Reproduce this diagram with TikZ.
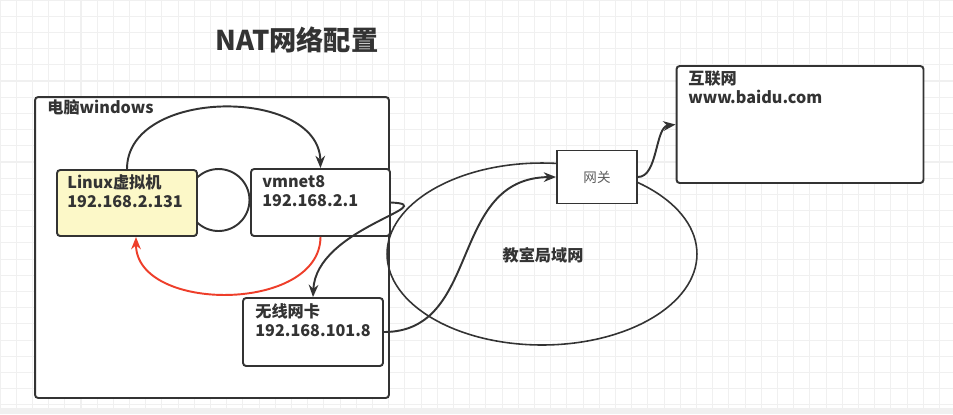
\documentclass[tikz,border=0pt]{standalone}
\usepackage{fontspec}
\setmainfont{Noto Sans CJK SC}
\usepackage{xcolor}
\usetikzlibrary{shapes,arrows.meta,positioning,calc}

\definecolor{ink}{RGB}{51,51,51}
\definecolor{vmyellow}{RGB}{252,248,200}
\definecolor{redarc}{RGB}{238,62,42}
\definecolor{gridgray}{RGB}{240,240,240}

\begin{document}
\begin{tikzpicture}[x=0.02cm, y=-0.02cm,
    box/.style={rectangle, draw=ink, line width=1.1pt, rounded corners=1.8pt, fill=white, inner sep=0pt},
    txt/.style={anchor=west, align=left, text=ink, inner sep=0pt, font=\bfseries\fontsize{9.2}{10.8}\selectfont},
    arrow/.style={->, >={Stealth[length=7pt, width=5.5pt]}, line width=1.1pt, draw=ink},
    redarrow/.style={->, >={Stealth[length=7pt, width=5.5pt]}, line width=1.1pt, draw=redarc}
]

% ── Canvas + grid ──
\useasboundingbox (0,0) rectangle (953,414);
\fill[white] (0,0) rectangle (953,414);
\draw[gridgray, line width=0.6pt, step=0.324cm] (0,0) grid (953,414);
\fill[gray!12] (0,408) rectangle (953,414);

% ── Title ──
\node[text=ink, inner sep=0pt, font=\bfseries\fontsize{15.5}{18}\selectfont] (title) at (297,40) {NAT网络配置};

% ── Windows host ──
\node[box, minimum width=7.08cm, minimum height=6.02cm] (win) at (212,247.5) {};
\node[txt] (wintxt) at (47,107) {电脑windows};

% ── Classroom LAN (behind gateway) ──
\node[ellipse, draw=ink, line width=0.9pt, minimum width=6.2cm, minimum height=3.64cm, inner sep=0pt] (lan) at (542,254) {};
\node[txt, anchor=center, font=\bfseries\fontsize{9.2}{11}\selectfont] (lantxt) at (543,255) {教室局域网};

% ── Inside the host (ring first, boxes cover its sides) ──
\node[circle, draw=ink, line width=1.1pt, minimum size=1.24cm, inner sep=0pt] (ring) at (218.5,200) {};

\node[box, fill=vmyellow, minimum width=2.8cm, minimum height=1.32cm] (linux) at (127,203) {};
\node[txt] (linuxtxt) at (67,191.5) {Linux虚拟机\\192.168.2.131};

\node[box, minimum width=2.78cm, minimum height=1.34cm] (vmnet) at (320.5,202.5) {};
\node[txt] (vmnettxt) at (262,191.5) {vmnet8\\192.168.2.1};

\node[box, minimum width=2.8cm, minimum height=1.36cm] (wifi) at (313,332) {};
\node[txt] (wifitxt) at (255,320.5) {无线网卡\\192.168.101.8};

% ── Gateway + internet ──
\node[rectangle, draw=ink, line width=1.1pt, fill=white, minimum width=1.6cm, minimum height=1.06cm, inner sep=0pt,
      text=ink!80, font=\fontsize{7.7}{9}\selectfont] (gw) at (597,177) {网关};

\node[box, minimum width=4.94cm, minimum height=2.34cm] (net) at (800,124.5) {};
\node[txt] (nettxt) at (688,87.5) {互联网\\www.baidu.com};

% ── Connectors ──
% Linux -> vmnet8 (over the top)
\draw[arrow] (linux.north) .. controls (127,87) and (319,87) .. (vmnet.north);

% vmnet8 -> Linux (red, underneath)
\draw[redarrow] (vmnet.south) .. controls (320,313) and (136,313) .. ([xshift=0.18cm]linux.south);

% vmnet8 -> wireless card
\draw[arrow] (vmnet.east) .. controls (445,205) and (316,228) .. (wifi.north);

% wireless card -> gateway
\draw[arrow] (wifi.east) .. controls (482,332) and (448,178) .. (gw.west);

% gateway -> internet
\draw[arrow] (gw.east) .. controls (658,177) and (655,127) .. (net.west);

\end{tikzpicture}
\end{document}
